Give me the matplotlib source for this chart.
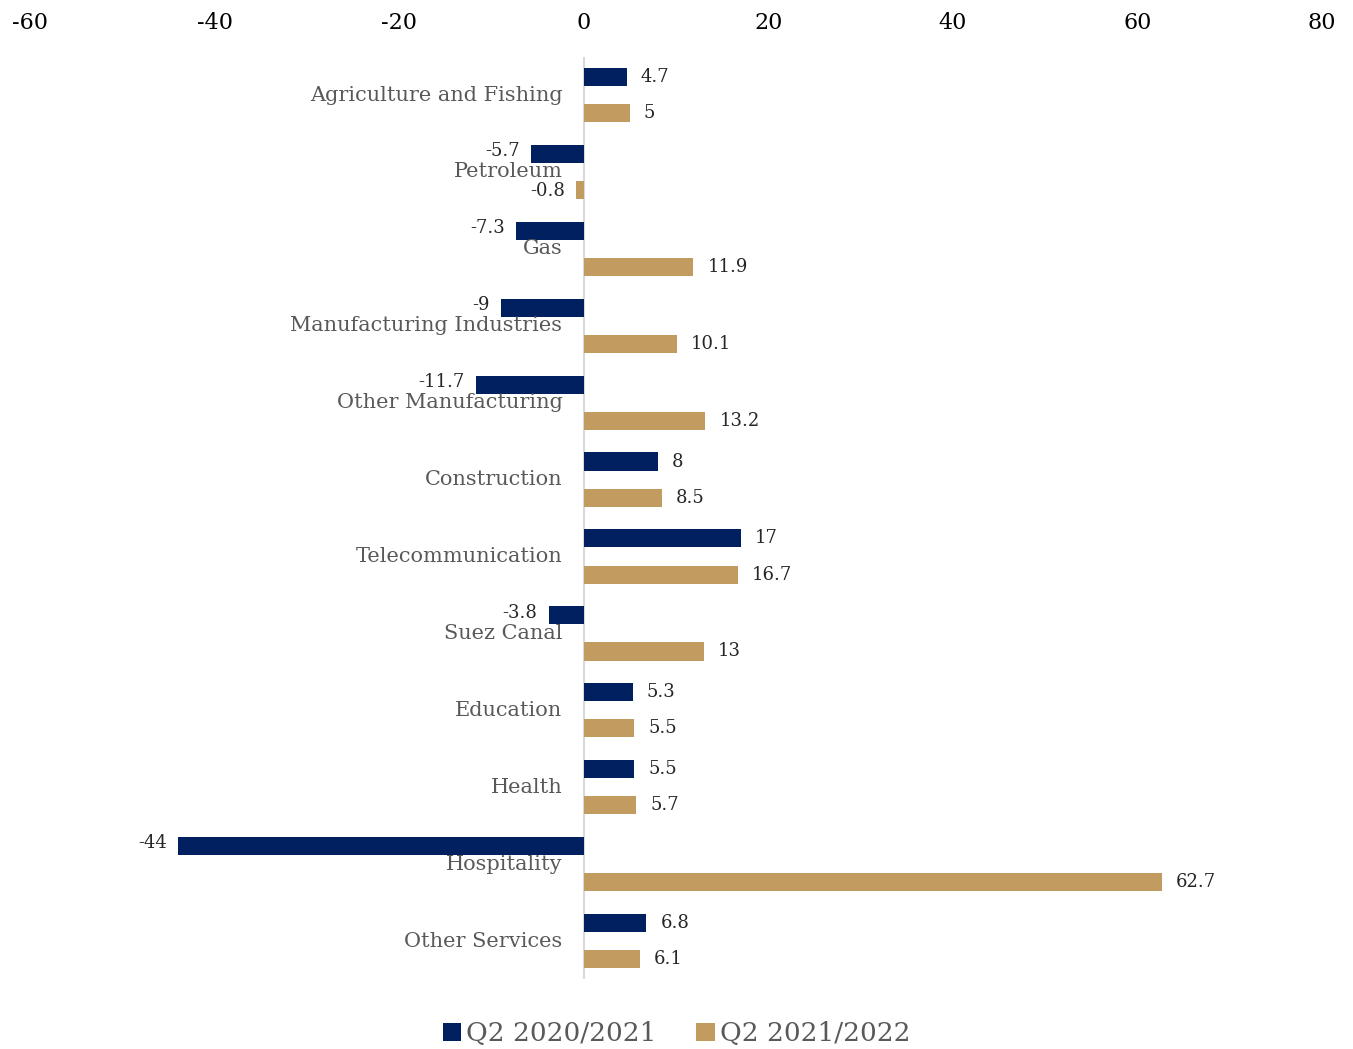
import matplotlib
matplotlib.use('Agg')
import matplotlib.pyplot as plt
import numpy as np

plt.rcParams['font.family'] = ['DejaVu Serif']
plt.rcParams['axes.unicode_minus'] = False

sectors = ['Agriculture and Fishing', 'Petroleum', 'Gas', 'Manufacturing Industries',
           'Other Manufacturing', 'Construction', 'Telecommunication', 'Suez Canal',
           'Education', 'Health', 'Hospitality', 'Other Services']
q2_2021 = [4.7, -5.7, -7.3, -9, -11.7, 8, 17, -3.8, 5.3, 5.5, -44, 6.8]
q2_2022 = [5, -0.8, 11.9, 10.1, 13.2, 8.5, 16.7, 13, 5.5, 5.7, 62.7, 6.1]
series_names = ['Q2 2020/2021', 'Q2 2021/2022']

navy = '#002060'
gold = '#C19B5F'

fig = plt.figure(figsize=(13.53, 10.49), dpi=100)
ax = fig.add_axes([0.0222, 0.0663, 0.9548, 0.8797])

y = np.arange(len(sectors))
h = 0.235
off = 0.235
b1 = ax.barh(y - off, q2_2021, height=h, color=navy, label=series_names[0])
b2 = ax.barh(y + off, q2_2022, height=h, color=gold, label=series_names[1])

# value labels (negatives of the first series sit a little higher, like Excel)
for bars, vals, dy in [(b1, q2_2021, 2), (b2, q2_2022, -1)]:
    for bar, v in zip(bars, vals):
        yc = bar.get_y() + bar.get_height() / 2
        txt = f'{v:g}'
        if v >= 0:
            ax.annotate(txt, (v, yc), xytext=(10, 0), textcoords='offset points',
                        ha='left', va='center', fontsize=13, color='#262626')
        else:
            ax.annotate(txt, (v, yc), xytext=(-8, dy), textcoords='offset points',
                        ha='right', va='center', fontsize=13, color='#262626')

ax.set_xlim(-60, 80)
ax.set_ylim(len(sectors) - 0.5, -0.5)
ax.set_xticks(range(-60, 81, 20))
ax.xaxis.tick_top()
ax.tick_params(axis='x', length=0, labelsize=16, pad=16, colors='black')
ax.set_yticks([])
for i, s in enumerate(sectors):
    ax.text(-2.3, i, s, ha='right', va='center', fontsize=15, color='#595959')

for sp in ax.spines.values():
    sp.set_visible(False)
ax.axvline(0, color='#D9D9D9', lw=1.5, zorder=0)

fig.legend(handles=[b1, b2], labels=series_names, loc='lower center',
           bbox_to_anchor=(0.5, -0.02), ncol=2, frameon=False, fontsize=19,
           handlelength=0.7, handleheight=0.7, handletextpad=0.2, columnspacing=1.5,
           labelcolor='#595959')

fig.savefig('out.png', dpi=100)
